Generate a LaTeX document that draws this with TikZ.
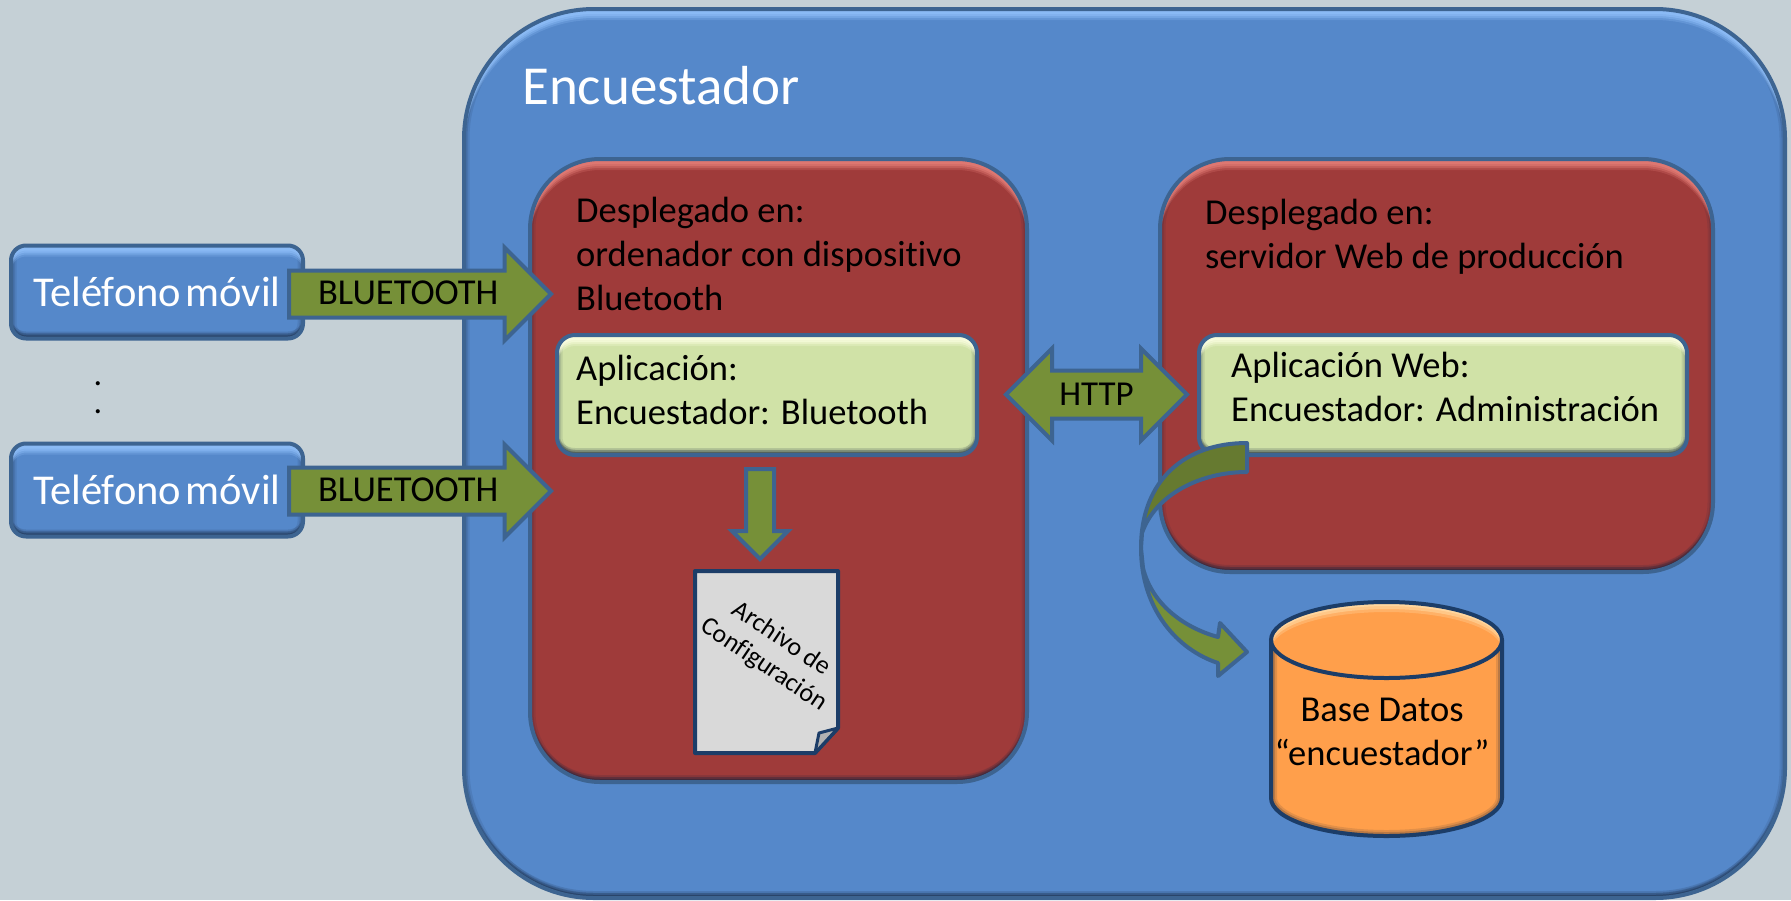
\documentclass[tikz,border=0pt]{standalone}
\usepackage{fontspec}
\setmainfont{Carlito}[Ligatures=NoCommon]
\usetikzlibrary{shapes.arrows,shapes.geometric}
\definecolor{pagebg}{HTML}{C5D0D6}
\definecolor{bluef}{HTML}{5588CA}
\definecolor{bluel}{HTML}{8DBDF8}
\definecolor{redf}{HTML}{9F3B3A}
\definecolor{redl}{HTML}{E27A74}
\definecolor{greenf}{HTML}{D0E2A7}
\definecolor{greenl}{HTML}{FBFFE0}
\definecolor{olive}{HTML}{769038}
\definecolor{olived}{HTML}{667A30}
\definecolor{edgeb}{HTML}{3D6491}
\definecolor{edged}{HTML}{1C3D68}
\definecolor{darkglow}{HTML}{14233A}
\definecolor{orangef}{HTML}{FF9F4B}
\definecolor{orangel}{HTML}{FFDDA8}
\definecolor{paper}{HTML}{D9D9D9}
\newcommand{\fs}[2]{\fontsize{#1}{#2}\selectfont}
\newcommand{\bevelpic}[3]{%
  \coordinate (A) at (path picture bounding box.south west);
  \coordinate (B) at (path picture bounding box.north east);
  \foreach \w/\o in {7/.15,11/.1}{
    \draw[darkglow,opacity=\o,line width=\w pt,rounded corners=#1] (A) rectangle (B);}
  \foreach \s/\o in {3/.3,5/.25,7/.15}{
    \fill[darkglow,opacity=\o,even odd rule,rounded corners=#1]
      (A) rectangle (B) ([yshift=\s pt]A) rectangle ([yshift=\s pt]B);}
  \foreach \s/\o in {5/.8,7/.6,9/.4,11/.25}{
    \fill[#2,opacity=\o,even odd rule,rounded corners=#1]
      (A) rectangle (B) ([yshift=-\s pt]A) rectangle ([yshift=-\s pt]B);}
}
\tikzset{
  bevelbox/.style n args={4}{draw=edgeb,line width=4pt,rectangle,rounded corners=#1,fill=#2,
    path picture={\bevelpic{#1}{#3}{#4}},inner sep=0pt},
  panel/.style={bevelbox={130pt}{bluef}{bluel}{}},
  redbox/.style={bevelbox={70pt}{redf}{redl}{}},
  appbox/.style={bevelbox={18pt}{greenf}{greenl}{}},
  phone/.style={bevelbox={15pt}{bluef}{bluel}{},minimum width=292pt,minimum height=93pt,
    text=white,font=\fs{42.5}{43}},
  blockarrow/.style={single arrow,draw=edgeb,fill=olive,line width=4pt,inner sep=0pt,
    single arrow head extend=23pt,minimum height=262pt,text height=32pt,text depth=11pt,font=\fs{36.5}{36.5}},
  lab/.style={align=left,anchor=north west,inner sep=0pt,font=\fs{36.5}{44}},
}
\begin{document}
\begin{tikzpicture}[x=1pt,y=-1pt]
\useasboundingbox (0,0) rectangle (1791,900);
\fill[pagebg] (0,0) rectangle (1791,900);

\node[panel,minimum width=1321pt,minimum height=889pt] (outer) at (1124.5,453.5) {};
\node[text=white,font=\fs{55}{55},anchor=west,inner sep=0pt] (title) at (522,86) {Encuestador};

\node[redbox,minimum width=497pt,minimum height=623pt] (red1) at (778.5,470.5) {};
\node[redbox,minimum width=553pt,minimum height=413pt] (red2) at (1436.5,365.5) {};

\node[lab] (t1) at (576,196.5) {Desplegado en:\\ordenador con dispositivo\\Bluetooth};
\node[lab] (t2) at (1205,198.5) {Desplegado en:\\servidor Web de producción};

\node[appbox,minimum width=420pt,minimum height=120pt] (app1) at (767,395) {};
\node[appbox,minimum width=488pt,minimum height=120pt] (app2) at (1443,395) {};
\node[lab] (a1) at (576,355) {Aplicación:\\Encuestador: Bluetooth};
\node[lab] (a2) at (1231,352) {Aplicación Web:\\Encuestador: Administración};

\node[phone] (ph1) at (157,292) {Teléfono\kern-5pt\ móvil\hspace{4pt}};
\node[phone] (ph2) at (157,490) {Teléfono\kern-5pt\ móvil\hspace{4pt}};
\node[font=\fs{34}{28},align=center,inner sep=0pt] (dots) at (98,397.5) {.\\.};

\node[blockarrow,anchor=tail] (b1) at (287,294) {BLUETOOTH\hspace{16pt}};
\node[blockarrow,anchor=tail] (b2) at (287,491) {BLUETOOTH\hspace{16pt}};

\node[double arrow,draw=edgeb,fill=olive,line width=4pt,inner sep=0pt,
  double arrow head extend=22pt,minimum height=181pt,text height=33pt,text depth=11pt,font=\fs{35}{35}]
  (http) at (1096.5,394.5) {HTTP};

\node[single arrow,draw=edgeb,fill=olive,line width=4pt,inner sep=0pt,rotate=-90,
  single arrow head extend=14pt,minimum height=90pt,text height=24pt,text depth=0pt,anchor=tail] (down) at (760,467) {};

% document
\coordinate (docnw) at (695,571);
\draw[edged,line width=4pt,fill=paper,line join=round] (docnw) -- (838,571) -- (838,728) -- (815,753) -- (695,753) -- cycle;
\draw[draw=edged,line width=3pt,fill=gray!60,line join=round] (838,728) -- (819,733) -- (815,753) -- cycle;
\node[rotate=-34,align=center,font=\fs{26}{31},inner sep=0pt] (doc) at (772.5,652) {Archivo de\\Configuración};

% cylinder
\coordinate (dbc) at (1386.5,640);
\path[fill=orangef] (1271,640) -- (1271,798) arc[start angle=180,end angle=0,x radius=115.5,y radius=38] -- (1502,640) -- cycle;
\begin{scope}
  \clip (1271,640) -- (1271,798) arc[start angle=180,end angle=0,x radius=115.5,y radius=38] -- (1502,640) -- cycle;
  \foreach \w/\o in {4/.3,8/.2,12/.12}{
    \draw[darkglow,opacity=\o,line width=\w pt] (1271,640) -- (1271,798) arc[start angle=180,end angle=0,x radius=115.5,y radius=38] -- (1502,640);}
\end{scope}
\fill[orangef] (dbc) ellipse[x radius=115.5,y radius=38];
\begin{scope}
  \clip (dbc) ellipse[x radius=115.5,y radius=38];
  \foreach \s/\o in {4/.7,7/.5,10/.3}{
    \fill[orangel,opacity=\o,even odd rule] (dbc) ellipse[x radius=115.5,y radius=38] (1386.5,640+\s) ellipse[x radius=115.5,y radius=38];}
\end{scope}
\draw[draw=edged,line width=4pt] (dbc) ellipse[x radius=115.5,y radius=38];
\draw[draw=edged,line width=4pt] (1271,640) -- (1271,798) arc[start angle=180,end angle=0,x radius=115.5,y radius=38] -- (1502,640);
\node[align=center,font=\fs{36.5}{44},inner sep=0pt] (db) at (1382,732) {Base Datos\\“encuestador”};

% curved arrow
\coordinate (cstart) at (1247,443);
\coordinate (cend) at (1247,652);
\draw[draw=edgeb,line width=4pt,fill=olived,line join=round]
  (cstart) .. controls (1185,443) and (1141,480) .. (1141,548)
  -- (1142,533) .. controls (1155,495) and (1200,472) .. (1247,472) -- cycle;
\draw[draw=edgeb,line width=4pt,fill=olive,line join=round]
  (1141,548) .. controls (1141,610) and (1178,650) .. (1218,663)
  -- (1218,676) -- (cend) -- (1220,623) -- (1218,637)
  .. controls (1185,628) and (1152,605) .. (1143,568) -- cycle;
\end{tikzpicture}
\end{document}
